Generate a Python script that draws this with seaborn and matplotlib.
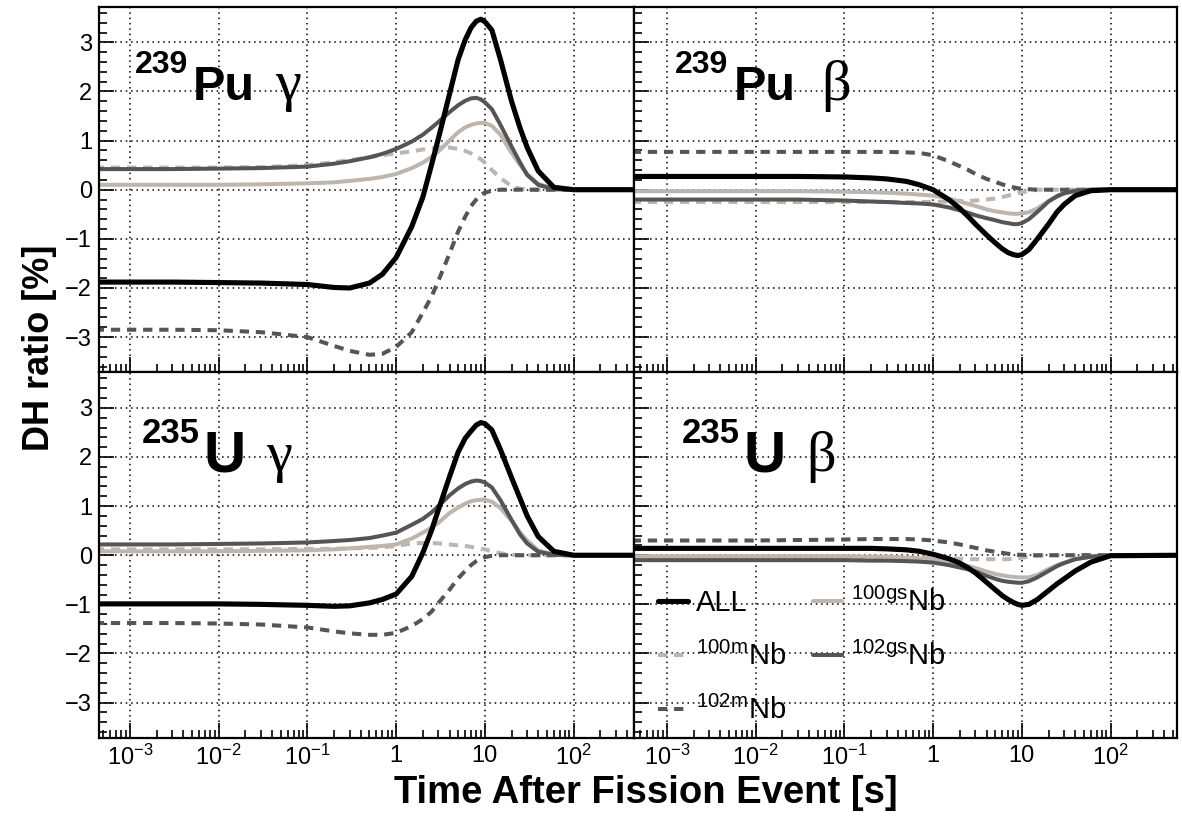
import numpy as np
import pandas as pd
import matplotlib
matplotlib.use("Agg")
import matplotlib.pyplot as plt
import matplotlib.ticker as mticker
from matplotlib.lines import Line2D
import seaborn as sns

# === DATA ===
t = [4e-4, 1e-3, 3e-3, 1e-2, 3e-2, 0.1, 0.2, 0.3, 0.5, 0.7, 1, 1.5, 2, 2.5, 3, 4, 5, 6,
     7, 8, 9, 10, 12, 15, 20, 25, 30, 40, 60, 100, 600]

# 239Pu gamma
pu_g_all = [-1.88, -1.88, -1.88, -1.89, -1.90, -1.93, -1.99, -2.00, -1.90, -1.72, -1.38, -0.75, -0.15,
            0.50, 1.05, 1.95, 2.65, 3.05, 3.30, 3.43, 3.47, 3.42, 3.25, 2.65, 1.80, 1.25, 0.86,
            0.38, 0.05, 0.0, 0.0]
pu_g_100m = [0.45, 0.45, 0.45, 0.45, 0.46, 0.50, 0.56, 0.60, 0.66, 0.70, 0.74, 0.78, 0.82,
             0.84, 0.86, 0.86, 0.83, 0.79, 0.74, 0.68, 0.62, 0.55, 0.40, 0.24, 0.07, 0.02, 0.0,
             0.0, 0.0, 0.0, 0.0]
pu_g_102m = [-2.85, -2.85, -2.85, -2.86, -2.90, -3.00, -3.18, -3.28, -3.36, -3.34, -3.20, -2.90, -2.50,
             -2.18, -1.85, -1.30, -0.85, -0.55, -0.33, -0.20, -0.10, -0.06, -0.02, 0.0, 0.0, 0.0, 0.0,
             0.0, 0.0, 0.0, 0.0]
pu_g_100gs = [0.10, 0.10, 0.10, 0.10, 0.11, 0.13, 0.15, 0.18, 0.22, 0.26, 0.32, 0.44, 0.55,
              0.67, 0.78, 1.00, 1.17, 1.27, 1.32, 1.35, 1.36, 1.36, 1.30, 1.12, 0.75, 0.50, 0.32,
              0.12, 0.02, 0.0, 0.0]
pu_g_102gs = [0.42, 0.42, 0.42, 0.43, 0.44, 0.47, 0.53, 0.58, 0.66, 0.73, 0.83, 0.98, 1.12,
              1.26, 1.38, 1.58, 1.72, 1.81, 1.86, 1.87, 1.84, 1.78, 1.64, 1.32, 0.88, 0.55, 0.30,
              0.10, 0.01, 0.0, 0.0]

# 239Pu beta
pu_b_all = [0.27, 0.27, 0.27, 0.27, 0.27, 0.26, 0.24, 0.22, 0.17, 0.10, 0.0, -0.20, -0.38,
            -0.55, -0.70, -0.92, -1.08, -1.20, -1.28, -1.32, -1.34, -1.32, -1.22, -1.00, -0.70, -0.45, -0.30,
            -0.12, -0.02, 0.0, 0.0]
pu_b_100m = [-0.25, -0.25, -0.25, -0.25, -0.25, -0.25, -0.25, -0.25, -0.25, -0.25, -0.25, -0.24, -0.23,
             -0.23, -0.22, -0.20, -0.18, -0.15, -0.12, -0.09, -0.07, -0.05, -0.03, 0.0, 0.0, 0.0, 0.0,
             0.0, 0.0, 0.0, 0.0]
pu_b_102m = [0.77, 0.77, 0.77, 0.77, 0.77, 0.77, 0.77, 0.77, 0.76, 0.75, 0.70, 0.58, 0.48,
             0.40, 0.32, 0.22, 0.16, 0.11, 0.07, 0.05, 0.03, 0.02, 0.01, 0.0, 0.0, 0.0, 0.0,
             0.0, 0.0, 0.0, 0.0]
pu_b_100gs = [-0.03, -0.03, -0.03, -0.03, -0.03, -0.04, -0.05, -0.06, -0.08, -0.10, -0.12, -0.18, -0.24,
              -0.29, -0.33, -0.40, -0.44, -0.46, -0.48, -0.49, -0.49, -0.48, -0.46, -0.38, -0.23, -0.14, -0.08,
              -0.03, 0.0, 0.0, 0.0]
pu_b_102gs = [-0.20, -0.20, -0.20, -0.20, -0.20, -0.22, -0.24, -0.25, -0.27, -0.28, -0.30, -0.36, -0.42,
              -0.47, -0.52, -0.58, -0.62, -0.66, -0.68, -0.70, -0.70, -0.68, -0.60, -0.45, -0.24, -0.13, -0.07,
              -0.02, 0.0, 0.0, 0.0]

# 235U gamma
u_g_all = [-0.99, -0.99, -0.99, -0.99, -1.00, -1.02, -1.04, -1.03, -0.97, -0.90, -0.79, -0.43, 0.05,
           0.50, 0.93, 1.60, 2.10, 2.38, 2.53, 2.65, 2.70, 2.68, 2.55, 2.15, 1.58, 1.15, 0.80,
           0.38, 0.08, 0.0, 0.0]
u_g_100m = [0.12, 0.12, 0.12, 0.12, 0.12, 0.13, 0.13, 0.14, 0.15, 0.16, 0.19, 0.24, 0.25,
            0.25, 0.24, 0.22, 0.20, 0.19, 0.17, 0.15, 0.13, 0.12, 0.08, 0.04, 0.01, 0.0, 0.0,
            0.0, 0.0, 0.0, 0.0]
u_g_102m = [-1.38, -1.38, -1.38, -1.39, -1.41, -1.47, -1.55, -1.59, -1.62, -1.62, -1.58, -1.44, -1.30,
            -1.15, -0.97, -0.70, -0.47, -0.32, -0.20, -0.12, -0.07, -0.04, -0.01, 0.0, 0.0, 0.0, 0.0,
            0.0, 0.0, 0.0, 0.0]
u_g_100gs = [0.08, 0.08, 0.08, 0.08, 0.09, 0.10, 0.12, 0.14, 0.17, 0.19, 0.22, 0.34, 0.46,
             0.56, 0.66, 0.86, 0.97, 1.05, 1.10, 1.12, 1.13, 1.13, 1.09, 0.96, 0.70, 0.46, 0.30,
             0.10, 0.01, 0.0, 0.0]
u_g_102gs = [0.22, 0.22, 0.22, 0.23, 0.24, 0.26, 0.29, 0.31, 0.35, 0.40, 0.46, 0.62, 0.74,
             0.87, 1.00, 1.22, 1.36, 1.45, 1.50, 1.52, 1.51, 1.48, 1.38, 1.12, 0.72, 0.42, 0.24,
             0.07, 0.01, 0.0, 0.0]

# 235U beta
u_b_all = [0.14, 0.14, 0.14, 0.14, 0.14, 0.14, 0.14, 0.13, 0.11, 0.08, 0.02, -0.07, -0.16,
           -0.26, -0.36, -0.55, -0.70, -0.82, -0.90, -0.96, -1.00, -1.02, -1.00, -0.90, -0.72, -0.58, -0.48,
           -0.32, -0.14, -0.01, 0.0]
u_b_100m = [-0.05, -0.05, -0.05, -0.05, -0.05, -0.05, -0.05, -0.05, -0.05, -0.05, -0.06, -0.06, -0.07,
            -0.08, -0.08, -0.08, -0.08, -0.08, -0.08, -0.07, -0.06, -0.05, -0.03, -0.01, 0.0, 0.0, 0.0,
            0.0, 0.0, 0.0, 0.0]
u_b_102m = [0.30, 0.30, 0.30, 0.30, 0.31, 0.32, 0.33, 0.33, 0.33, 0.32, 0.30, 0.26, 0.22,
            0.18, 0.15, 0.10, 0.07, 0.05, 0.03, 0.02, 0.01, 0.01, 0.0, 0.0, 0.0, 0.0, 0.0,
            0.0, 0.0, 0.0, 0.0]
u_b_100gs = [-0.02, -0.02, -0.02, -0.02, -0.02, -0.02, -0.03, -0.03, -0.05, -0.06, -0.08, -0.13, -0.18,
             -0.22, -0.26, -0.33, -0.38, -0.41, -0.43, -0.44, -0.45, -0.45, -0.45, -0.40, -0.28, -0.20, -0.15,
             -0.08, -0.03, 0.0, 0.0]
u_b_102gs = [-0.10, -0.10, -0.10, -0.10, -0.10, -0.10, -0.11, -0.11, -0.12, -0.13, -0.15, -0.20, -0.25,
             -0.29, -0.33, -0.42, -0.48, -0.52, -0.54, -0.55, -0.56, -0.56, -0.53, -0.45, -0.32, -0.22, -0.16,
             -0.08, -0.03, 0.0, 0.0]

labels = ["ALL", r"$^{\mathrm{100m}}$Nb", r"$^{\mathrm{102m}}$Nb",
          r"$^{\mathrm{100gs}}$Nb", r"$^{\mathrm{102gs}}$Nb"]
xtick_vals = [1e-3, 1e-2, 1e-1, 1, 10, 100]
xtick_labels = [r"$10^{-3}$", r"$10^{-2}$", r"$10^{-1}$", "1", "10", r"$10^{2}$"]
ytick_vals = [-3, -2, -1, 0, 1, 2, 3]

# === STYLE ===
sns.set_theme(style="white")
plt.rcParams["font.family"] = ["Liberation Sans", "DejaVu Sans"]
plt.rcParams["mathtext.fontset"] = "custom"
plt.rcParams["mathtext.rm"] = "Liberation Sans"
plt.rcParams["mathtext.it"] = "Liberation Sans:italic"
plt.rcParams["mathtext.bf"] = "Liberation Sans:bold"
plt.rcParams["axes.unicode_minus"] = True
for key in ["text.color", "axes.labelcolor", "xtick.color", "ytick.color", "axes.edgecolor"]:
    plt.rcParams[key] = "black"

light = "#beb6ae"
dark = "#555555"
dash = (0, (2.3, 1.7))
# order: ALL, 100m, 102m, 100gs, 102gs
colors = ["black", light, dark, light, dark]
widths = [3.7, 2.9, 2.9, 2.9, 2.9]
styles = ["-", dash, dash, "-", "-"]
draw_order = [1, 2, 3, 4, 0]

fig = plt.figure(figsize=(11.82, 8.19), dpi=100)
gs = fig.add_gridspec(2, 2, left=0.0838, right=0.9958, top=0.9915, bottom=0.0989,
                      wspace=0, hspace=0, width_ratios=[535, 543])

panels = [
    (0, 0, [pu_g_all, pu_g_100m, pu_g_102m, pu_g_100gs, pu_g_102gs], ("239", "Pu", "\u03b3")),
    (0, 1, [pu_b_all, pu_b_100m, pu_b_102m, pu_b_100gs, pu_b_102gs], ("239", "Pu", "\u03b2")),
    (1, 0, [u_g_all, u_g_100m, u_g_102m, u_g_100gs, u_g_102gs], ("235", "U", "\u03b3")),
    (1, 1, [u_b_all, u_b_100m, u_b_102m, u_b_100gs, u_b_102gs], ("235", "U", "\u03b2")),
]

# title placement in axes fraction: (sup x, sup y, elem x, elem y, greek x, sizes)
title_pos = {
    (0, 0): (0.067, 0.819, 0.176, 0.745, 0.330, 23, 35),
    (0, 1): (0.075, 0.819, 0.183, 0.745, 0.345, 23, 35),
    (1, 0): (0.080, 0.807, 0.196, 0.730, 0.312, 25, 42),
    (1, 1): (0.088, 0.807, 0.202, 0.730, 0.318, 25, 42),
}

axes = {}
for r, c, series, title in panels:
    ax = fig.add_subplot(gs[r, c])
    axes[(r, c)] = ax
    for i in draw_order:
        sns.lineplot(x=t, y=series[i], ax=ax, color=colors[i], linewidth=widths[i],
                     linestyle=styles[i], legend=False)
    ax.set_xscale("log")
    if c == 0:
        ax.set_xlim(4.47e-4, 481)
    else:
        ax.set_xlim(4.25e-4, 562)
    ax.set_ylim(-3.72, 3.72)
    ax.xaxis.set_major_locator(mticker.FixedLocator(xtick_vals))
    ax.xaxis.set_major_formatter(mticker.FixedFormatter(xtick_labels))
    ax.xaxis.set_minor_locator(mticker.LogLocator(base=10, subs=np.arange(2, 10), numticks=20))
    ax.xaxis.set_minor_formatter(mticker.NullFormatter())
    ax.yaxis.set_major_locator(mticker.FixedLocator(ytick_vals))
    ax.yaxis.set_minor_locator(mticker.MultipleLocator(0.2))
    ax.tick_params(which="both", direction="in", bottom=True, left=True, top=False, right=False,
                   width=1.2, color="black")
    ax.tick_params(which="major", length=11, labelsize=17, pad=5)
    ax.tick_params(which="minor", length=5.5)
    ax.tick_params(labelleft=(c == 0), labelbottom=(r == 1))
    ax.grid(True, which="major", color="black", linestyle=(0, (1, 2.5)), linewidth=1.1)
    for sp in ax.spines.values():
        sp.set_color("black")
        sp.set_linewidth(1.6)
    ax.set_xlabel("")
    ax.set_ylabel("")

    sx, sy, ex, ey, gx, ssz, esz = title_pos[(r, c)]
    ax.text(sx, sy, title[0], transform=ax.transAxes, fontsize=ssz, fontweight="bold",
            va="baseline", ha="left")
    ax.text(ex, ey, title[1], transform=ax.transAxes, fontsize=esz, fontweight="bold",
            va="baseline", ha="left")
    ax.text(gx, ey, title[2], transform=ax.transAxes, fontsize=42, family="Liberation Serif",
            va="baseline", ha="left")

# === LEGEND ===
handles = [Line2D([], [], color=colors[i], linewidth=widths[i], linestyle=styles[i]) for i in range(5)]
axes[(1, 1)].legend(handles, labels, ncol=2, frameon=False, fontsize=21,
                    loc="upper left", bbox_to_anchor=(0.045, 0.41),
                    handlelength=1.0, handletextpad=0.3, columnspacing=0.9,
                    labelspacing=0.85, borderpad=0, borderaxespad=0)

fig.text(0.033, 0.575, "DH ratio [%]", rotation=90, ha="center", va="center",
         fontsize=26, fontweight="bold")
fig.text(0.5465, 0.032, "Time After Fission Event [s]", ha="center", va="center",
         fontsize=27.5, fontweight="bold")

plt.savefig("out.png", dpi=100)
